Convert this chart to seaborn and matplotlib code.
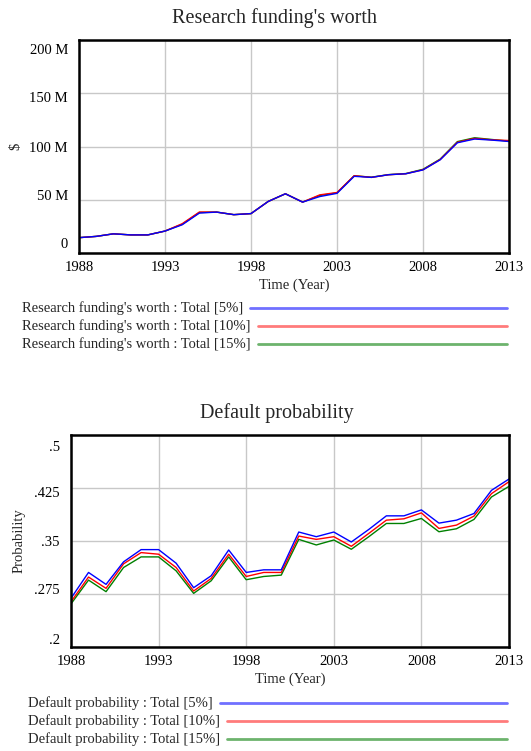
import numpy as np
import pandas as pd
import matplotlib
matplotlib.use("Agg")
import matplotlib.pyplot as plt
from matplotlib.lines import Line2D
from matplotlib.ticker import FuncFormatter
from matplotlib.transforms import ScaledTranslation
import seaborn as sns

sns.set_style("white")
plt.rcParams['font.family'] = ['Liberation Serif', 'DejaVu Serif']

years = list(range(1988, 2014))
scenarios = ["5%", "10%", "15%"]
colors = {"5%": "#0000ff", "10%": "#ff0000", "15%": "#008000"}
legend_colors = {"5%": "#7070ff", "10%": "#ff7b7b", "15%": "#6db36d"}

# Research funding's worth, millions of $
worth_5 = [14.4, 15.6, 18.0, 17.0, 17.0, 20.6, 26.5, 37.5, 38.4, 36.0, 37.0, 48.4, 55.6,
           47.8, 53.0, 56.0, 72.0, 71.0, 73.5, 74.4, 78.0, 87.5, 103.5, 107.0, 106.0, 104.7]
worth_10 = [14.4, 15.6, 18.0, 17.0, 17.0, 20.6, 27.5, 38.5, 38.4, 36.0, 37.0, 48.4, 55.6,
            47.8, 54.6, 56.8, 72.6, 71.0, 73.5, 74.4, 78.2, 87.8, 104.0, 107.6, 106.3, 105.6]
worth_15 = [14.4, 15.6, 18.0, 17.0, 17.0, 20.6, 27.0, 38.0, 38.4, 36.0, 37.0, 48.4, 55.6,
            47.8, 54.0, 56.5, 72.5, 71.2, 73.6, 74.6, 78.6, 88.2, 104.6, 108.2, 106.6, 105.0]

# Default probability
prob_5 = [0.269, 0.3055, 0.2886, 0.3205, 0.3378, 0.3378, 0.3186, 0.2839, 0.3008, 0.3373,
          0.3055, 0.3092, 0.3092, 0.3627, 0.3561, 0.3627, 0.3486, 0.3664, 0.3856, 0.3856,
          0.394, 0.3753, 0.3795, 0.3889, 0.4217, 0.4377]
prob_10 = [0.264, 0.299, 0.283, 0.3177, 0.3336, 0.3313, 0.3125, 0.2792, 0.297, 0.3313,
           0.2998, 0.3055, 0.3055, 0.357, 0.3523, 0.3561, 0.3425, 0.3608, 0.3795, 0.3814,
           0.3898, 0.3678, 0.3725, 0.3852, 0.417, 0.4339]
prob_15 = [0.261, 0.2947, 0.2783, 0.3125, 0.3275, 0.3275, 0.3078, 0.2759, 0.2937, 0.3275,
           0.2952, 0.2998, 0.3017, 0.3523, 0.3444, 0.3514, 0.3383, 0.3561, 0.3748, 0.3748,
           0.3819, 0.3631, 0.3673, 0.3805, 0.4123, 0.4273]

worth = pd.DataFrame({"year": years * 3,
                      "value": worth_5 + worth_10 + worth_15,
                      "run": sum([[s] * len(years) for s in scenarios], [])})
prob = pd.DataFrame({"year": years * 3,
                     "value": prob_5 + prob_10 + prob_15,
                     "run": sum([[s] * len(years) for s in scenarios], [])})

W, H = 531, 751
fig = plt.figure(figsize=(W / 100, H / 100), dpi=100)


def px_axes(l, t, r, b):
    return fig.add_axes([l / W, 1 - b / H, (r - l) / W, (b - t) / H])


def style(ax, ylim, yticks, fmt, shifts):
    ax.set_xlim(1988, 2013)
    ax.set_ylim(*ylim)
    ax.set_xticks(range(1988, 2014, 5))
    ax.set_yticks(yticks)
    ax.yaxis.set_major_formatter(FuncFormatter(fmt))
    ax.grid(True, color="#c8c8c8", lw=1)
    for s in ax.spines.values():
        s.set_color("black")
        s.set_linewidth(1.8)
    ax.tick_params(axis="both", length=0, labelsize=10.5, colors="black")
    ax.tick_params(axis="x", pad=6)
    ax.tick_params(axis="y", pad=8)
    ax.set_xlabel("Time (Year)", fontsize=10.5, labelpad=3)
    for lab, dy in zip(ax.get_yticklabels(), shifts):
        lab.set_transform(lab.get_transform() + ScaledTranslation(0, dy / 100, fig.dpi_scale_trans))


def legend_rows(name, x0, ys):
    fig.canvas.draw()
    r = fig.canvas.get_renderer()
    for s, y in zip(scenarios, ys):
        t = fig.text(x0 / W, 1 - y / H, f"{name} : Total [{s}]", fontsize=10.5,
                     va="center", ha="left")
        ext = t.get_window_extent(renderer=r)
        fig.add_artist(Line2D([(ext.x1 + 7) / W, 507 / W], [1 - y / H, 1 - y / H],
                              color=legend_colors[s], lw=2))


# top panel
ax1 = px_axes(79, 40, 509, 253)
sns.lineplot(data=worth, x="year", y="value", hue="run", hue_order=["15%", "10%", "5%"],
             palette=colors, lw=1, legend=False, ax=ax1)
style(ax1, (0, 200), [0, 50, 100, 150, 200],
      lambda v, p: "0" if v == 0 else f"{v:g} M", [10, 5, 0, -4, -9])
ax1.set_ylabel("$", fontsize=10.5, labelpad=5)
fig.text(275 / W, 1 - 18 / H, "Research funding's worth", fontsize=14.5, ha="center", va="center")

# bottom panel
ax2 = px_axes(71, 435, 509, 647)
sns.lineplot(data=prob, x="year", y="value", hue="run", hue_order=["15%", "10%", "5%"],
             palette=colors, lw=1, legend=False, ax=ax2)
style(ax2, (0.2, 0.5), [0.2, 0.275, 0.35, 0.425, 0.5],
      lambda v, p: f"{v:g}".lstrip("0"), [8, 5, 0, -4, -11])
ax2.set_ylabel("Probability", fontsize=10.5, labelpad=6)
fig.text(277 / W, 1 - 413 / H, "Default probability", fontsize=14.5, ha="center", va="center")

legend_rows("Research funding's worth", 22, [308, 326, 344])
legend_rows("Default probability", 28, [703, 721, 739])

fig.savefig("out.png", dpi=100)
